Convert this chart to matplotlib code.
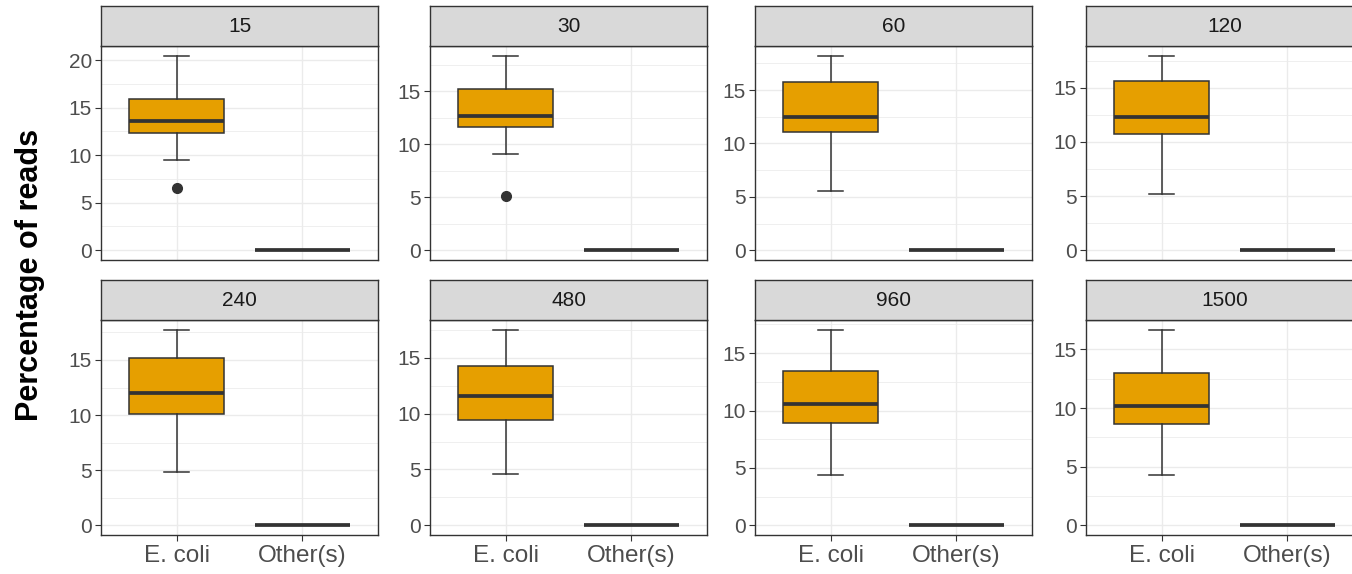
#!/usr/bin/env python3
import matplotlib
matplotlib.use("Agg")
import matplotlib.pyplot as plt
from matplotlib.ticker import MultipleLocator

# ---------------------------------------------------------------------------
# Data (percentage of reads)
# ---------------------------------------------------------------------------
times = ["15", "30", "60", "120", "240", "480", "960", "1500"]
categories = ["E. coli", "Other(s)"]

ecoli_whislo = [9.44, 9.03, 5.56, 5.22, 4.83, 4.56, 4.39, 4.29]
ecoli_q1 = [12.28, 11.63, 11.09, 10.69, 10.08, 9.46, 8.92, 8.61]
ecoli_med = [13.58, 12.67, 12.47, 12.26, 11.97, 11.62, 10.61, 10.21]
ecoli_q3 = [15.86, 15.16, 15.78, 15.59, 15.16, 14.26, 13.48, 12.99]
ecoli_whishi = [20.45, 18.33, 18.21, 17.96, 17.74, 17.53, 17.04, 16.68]
ecoli_outliers = [[6.56], [5.16], [], [], [], [], [], []]

# every Other(s) sample sits at zero
other_value = [0.0] * len(times)

# ---------------------------------------------------------------------------
# Style (theme_bw look)
# ---------------------------------------------------------------------------
plt.rcParams["font.family"] = ["Liberation Sans", "DejaVu Sans"]

FILL = "#E69F00"
DARK = "#333333"
GRID = "#EBEBEB"
STRIP = "#D9D9D9"
TICK_TXT = "#4D4D4D"

W, H = 1352, 574
fig = plt.figure(figsize=(W / 100, H / 100), dpi=100)

col_left = [101, 430, 755, 1086]
panel_w = 277
rows = [(6, 46, 260), (280, 320, 535)]  # strip top, panel top, panel bottom


def frac(x0, y0, x1, y1):
    return [x0 / W, 1 - y1 / H, (x1 - x0) / W, (y1 - y0) / H]


box_kw = dict(
    positions=[1, 2], widths=0.75, capwidths=0.2, patch_artist=True,
    boxprops=dict(facecolor=FILL, edgecolor=DARK, linewidth=1.1, zorder=3),
    medianprops=dict(color=DARK, linewidth=2.7, solid_capstyle="butt", zorder=4),
    whiskerprops=dict(color=DARK, linewidth=1.1, zorder=3),
    capprops=dict(color=DARK, linewidth=1.1, zorder=3),
    flierprops=dict(marker="o", markerfacecolor=DARK, markeredgecolor=DARK,
                    markersize=7, linestyle="none", zorder=3),
)

for i, t in enumerate(times):
    r, c = divmod(i, 4)
    strip_top, p_top, p_bot = rows[r]
    x0 = col_left[c]
    ax = fig.add_axes(frac(x0, p_top, x0 + panel_w, p_bot))

    stats = [
        dict(whislo=ecoli_whislo[i], q1=ecoli_q1[i], med=ecoli_med[i],
             q3=ecoli_q3[i], whishi=ecoli_whishi[i], fliers=ecoli_outliers[i]),
        dict(whislo=other_value[i], q1=other_value[i], med=other_value[i],
             q3=other_value[i], whishi=other_value[i], fliers=[]),
    ]
    ax.bxp(stats, **box_kw)

    lo = min([ecoli_whislo[i], other_value[i]] + ecoli_outliers[i])
    hi = max(ecoli_whishi[i], other_value[i])
    span = hi - lo
    ax.set_ylim(lo - 0.05 * span, hi + 0.05 * span)
    ax.set_xlim(0.4, 2.6)

    ax.yaxis.set_major_locator(MultipleLocator(5))
    ax.yaxis.set_minor_locator(MultipleLocator(2.5))
    ax.set_axisbelow(True)
    ax.grid(True, which="major", color=GRID, linewidth=1.0)
    ax.grid(True, which="minor", axis="y", color=GRID, linewidth=0.55)

    ax.set_xticks([1, 2])
    ax.set_xticklabels(categories)
    ax.tick_params(axis="y", which="major", length=4, width=0.8, color=DARK,
                   labelsize=15, labelcolor=TICK_TXT, pad=2.5)
    ax.tick_params(axis="y", which="minor", length=0)
    if r == 1:
        ax.tick_params(axis="x", length=4, width=0.8, color=DARK,
                       labelsize=17.5, labelcolor=TICK_TXT, pad=3)
    else:
        ax.tick_params(axis="x", length=0, labelbottom=False)

    for s in ax.spines.values():
        s.set_color(DARK)
        s.set_linewidth(1.0)

    # facet strip
    sax = fig.add_axes(frac(x0, strip_top, x0 + panel_w, p_top))
    sax.set_facecolor(STRIP)
    sax.set_xticks([])
    sax.set_yticks([])
    for s in sax.spines.values():
        s.set_color(DARK)
        s.set_linewidth(1.0)
    sax.text(0.5, 0.5, t, ha="center", va="center", fontsize=15,
             color="#1A1A1A", transform=sax.transAxes)

fig.text(30 / W, 1 - 275 / H, "Percentage of reads", rotation=90,
         ha="center", va="center", fontsize=22, fontweight="bold")

fig.savefig("out.png", dpi=100)
